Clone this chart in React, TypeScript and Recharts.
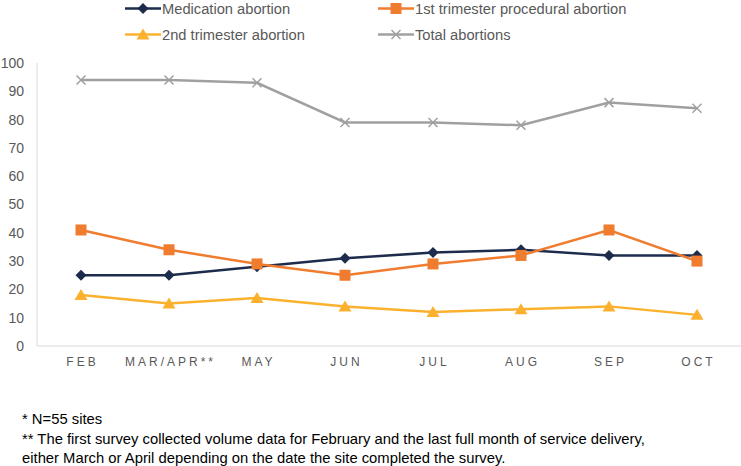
import { LineChart, Line, XAxis, YAxis } from "recharts";

const months = ["FEB", "MAR/APR**", "MAY", "JUN", "JUL", "AUG", "SEP", "OCT"];
const medication = [25, 25, 28, 31, 33, 34, 32, 32];
const firstTrimester = [41, 34, 29, 25, 29, 32, 41, 30];
const secondTrimester = [18, 15, 17, 14, 12, 13, 14, 11];
const totalAbortions = [94, 94, 93, 79, 79, 78, 86, 84];
const yTicks = [0, 10, 20, 30, 40, 50, 60, 70, 80, 90, 100];
const footnotes = [
  "* N=55 sites",
  "** The first survey collected volume data for February and the last full month of service delivery,",
  "either March or April depending on the date the site completed the survey.",
];

const series = [
  { key: "medication", name: "Medication abortion", color: "#1d2b4c", shape: "diamond" },
  { key: "first", name: "1st trimester procedural abortion", color: "#f07c30", shape: "square" },
  { key: "second", name: "2nd trimester abortion", color: "#fbb12e", shape: "triangle" },
  { key: "total", name: "Total abortions", color: "#a0a0a0", shape: "cross" },
];

const data = months.map((m, i) => ({
  month: m,
  medication: medication[i],
  first: firstTrimester[i],
  second: secondTrimester[i],
  total: totalAbortions[i],
}));

const Marker = ({ cx, cy, shape, color }: { cx: number; cy: number; shape: string; color: string }) => {
  if (cx == null || cy == null) return null;
  if (shape === "diamond") {
    const r = 5.5;
    return <path d={`M${cx},${cy - r}L${cx + r},${cy}L${cx},${cy + r}L${cx - r},${cy}Z`} fill={color} />;
  }
  if (shape === "square") {
    return <rect x={cx - 5.5} y={cy - 5.5} width={11} height={11} fill={color} />;
  }
  if (shape === "triangle") {
    return <path d={`M${cx},${cy - 6}L${cx + 6.5},${cy + 5}L${cx - 6.5},${cy + 5}Z`} fill={color} />;
  }
  const r = 4.5;
  return (
    <path
      d={`M${cx - r},${cy - r}L${cx + r},${cy + r}M${cx - r},${cy + r}L${cx + r},${cy - r}`}
      stroke={color}
      strokeWidth={1.5}
      fill="none"
    />
  );
};

// letter spacing adds a trailing gap, nudge right so glyphs stay centred
const MonthTick = ({ x, y, payload }: any) => (
  <text
    x={x + 1.5}
    y={y}
    dy="0.71em"
    textAnchor="middle"
    fill="#595959"
    fontSize={12}
    letterSpacing={3}
    fontFamily="'Liberation Sans', Arial, sans-serif"
  >
    {payload.value}
  </text>
);

const legendPos = [
  { left: 125, top: 0 },
  { left: 378, top: 0 },
  { left: 125, top: 26 },
  { left: 378, top: 26 },
];

export default function App() {
  return (
    <div
      style={{
        position: "absolute",
        left: 0,
        top: 0,
        width: 741,
        height: 466,
        background: "#fff",
        fontFamily: "'Liberation Sans', Arial, sans-serif",
        overflow: "hidden",
      }}
    >
      {series.map((s, i) => (
        <div
          key={s.key}
          style={{
            position: "absolute",
            left: legendPos[i].left,
            top: legendPos[i].top,
            height: 17,
            display: "flex",
            alignItems: "center",
            color: "#595959",
            fontSize: 14.7,
            whiteSpace: "nowrap",
          }}
        >
          <svg width={37} height={17}>
            <line x1={0} y1={8.5} x2={36} y2={8.5} stroke={s.color} strokeWidth={2.5} />
            <Marker cx={18} cy={8.5} shape={s.shape} color={s.color} />
          </svg>
          <span>{s.name}</span>
        </div>
      ))}
      <div style={{ position: "absolute", left: 0, top: 0 }}>
        <LineChart width={741} height={380} data={data} margin={{ top: 63, right: 0, bottom: 4, left: 0 }}>
          <XAxis
            dataKey="month"
            height={30}
            padding={{ left: 44, right: 44 }}
            axisLine={{ stroke: "#d9d9d9" }}
            tickLine={false}
            tickMargin={5}
            tick={<MonthTick />}
            interval={0}
          />
          <YAxis
            width={37}
            domain={[0, 100]}
            ticks={yTicks}
            interval={0}
            axisLine={{ stroke: "#d9d9d9" }}
            tickLine={false}
            tickMargin={7}
            tick={{ fill: "#595959", fontSize: 14, fontFamily: "'Liberation Sans', Arial, sans-serif" }}
          />
          {series.map((s) => (
            <Line
              key={s.key}
              dataKey={s.key}
              name={s.name}
              type="linear"
              stroke={s.color}
              strokeWidth={2.5}
              isAnimationActive={false}
              dot={(p: any) => <Marker key={`${s.key}-${p.index}`} cx={p.cx} cy={p.cy} shape={s.shape} color={s.color} />}
              activeDot={false}
            />
          ))}
        </LineChart>
      </div>
      <div
        style={{
          position: "absolute",
          left: 22,
          top: 410,
          fontSize: 14.8,
          lineHeight: "19.5px",
          color: "#000",
        }}
      >
        {footnotes.map((f) => (
          <div key={f} style={{ whiteSpace: "nowrap" }}>
            {f}
          </div>
        ))}
      </div>
    </div>
  );
}
